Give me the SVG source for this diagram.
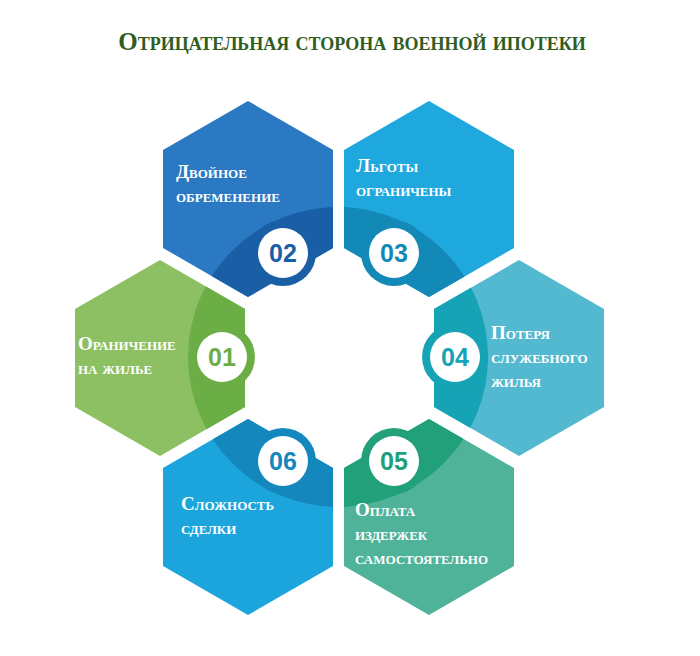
<svg xmlns="http://www.w3.org/2000/svg" width="700" height="656" viewBox="0 0 700 656">
<style>
.t{font-family:"Liberation Serif","DejaVu Serif",serif;font-weight:bold;font-variant:small-caps;fill:#fff;font-size:19px}
.n{font-family:"Liberation Sans","DejaVu Sans",sans-serif;font-weight:bold;font-size:25px;text-anchor:middle}
.title{font-family:"Liberation Serif","DejaVu Serif",serif;font-weight:bold;font-variant:small-caps;fill:#2f5d1f;font-size:25px;text-anchor:middle}
</style>
<defs>
<polygon id="hx" points="0,-98 85,-49 85,49 0,98 -85,49 -85,-49"/>
<clipPath id="c1"><use href="#hx" x="160" y="358"/></clipPath>
<clipPath id="c2"><use href="#hx" x="248" y="199"/></clipPath>
<clipPath id="c3"><use href="#hx" x="429" y="199"/></clipPath>
<clipPath id="c4"><use href="#hx" x="519" y="358"/></clipPath>
<clipPath id="c5"><use href="#hx" x="429" y="517"/></clipPath>
<clipPath id="c6"><use href="#hx" x="248" y="517"/></clipPath>
</defs>
<rect width="700" height="656" fill="#fff"/>
<text class="title" x="352" y="50">Отрицательная сторона военной ипотеки</text>
<g id="node1">
<use href="#hx" x="160" y="358" fill="#8dc063"/>
<circle cx="338" cy="357" r="150" fill="#6cae46" clip-path="url(#c1)"/>
<circle cx="222" cy="357" r="33" fill="#6cae46"/>
<circle cx="222" cy="357" r="25" fill="#fff"/>
<text class="n" x="222" y="366" fill="#6cae46">01</text>
<text class="t" x="78" y="350">Ораничение</text><text class="t" x="78" y="374">на жилье</text>
</g>
<g id="node2">
<use href="#hx" x="248" y="199" fill="#2b79c2"/>
<circle cx="338" cy="357" r="150" fill="#1a5fa6" clip-path="url(#c2)"/>
<circle cx="283" cy="253" r="33" fill="#1a5fa6"/>
<circle cx="283" cy="253" r="25" fill="#fff"/>
<text class="n" x="283" y="262" fill="#1a5fa6">02</text>
<text class="t" x="176" y="178">Двойное</text><text class="t" x="176" y="202">обременение</text>
</g>
<g id="node3">
<use href="#hx" x="429" y="199" fill="#1fa8de"/>
<circle cx="338" cy="357" r="150" fill="#1289b6" clip-path="url(#c3)"/>
<circle cx="394" cy="253" r="33" fill="#1289b6"/>
<circle cx="394" cy="253" r="25" fill="#fff"/>
<text class="n" x="394" y="262" fill="#1289b6">03</text>
<text class="t" x="356" y="172">Льготы</text><text class="t" x="356" y="196">ограничены</text>
</g>
<g id="node4">
<use href="#hx" x="519" y="358" fill="#53b9d0"/>
<circle cx="338" cy="357" r="150" fill="#16a3b5" clip-path="url(#c4)"/>
<circle cx="455" cy="357" r="33" fill="#16a3b5"/>
<circle cx="455" cy="357" r="25" fill="#fff"/>
<text class="n" x="455" y="366" fill="#16a3b5">04</text>
<text class="t" x="491" y="339">Потеря</text><text class="t" x="491" y="363">служебного</text><text class="t" x="491" y="387">жилья</text>
</g>
<g id="node5">
<use href="#hx" x="429" y="517" fill="#4fb39a"/>
<circle cx="338" cy="357" r="150" fill="#22a07a" clip-path="url(#c5)"/>
<circle cx="394" cy="461" r="33" fill="#22a07a"/>
<circle cx="394" cy="461" r="25" fill="#fff"/>
<text class="n" x="394" y="470" fill="#22a07a">05</text>
<text class="t" x="355" y="516">Оплата</text><text class="t" x="355" y="540">издержек</text><text class="t" x="355" y="564">самостоятельно</text>
</g>
<g id="node6">
<use href="#hx" x="248" y="517" fill="#1ca5dc"/>
<circle cx="338" cy="357" r="150" fill="#1487bd" clip-path="url(#c6)"/>
<circle cx="283" cy="461" r="33" fill="#1487bd"/>
<circle cx="283" cy="461" r="25" fill="#fff"/>
<text class="n" x="283" y="470" fill="#1487bd">06</text>
<text class="t" x="181" y="510">Сложность</text><text class="t" x="181" y="534">сделки</text>
</g>
<g id="connectors"/>
</svg>
